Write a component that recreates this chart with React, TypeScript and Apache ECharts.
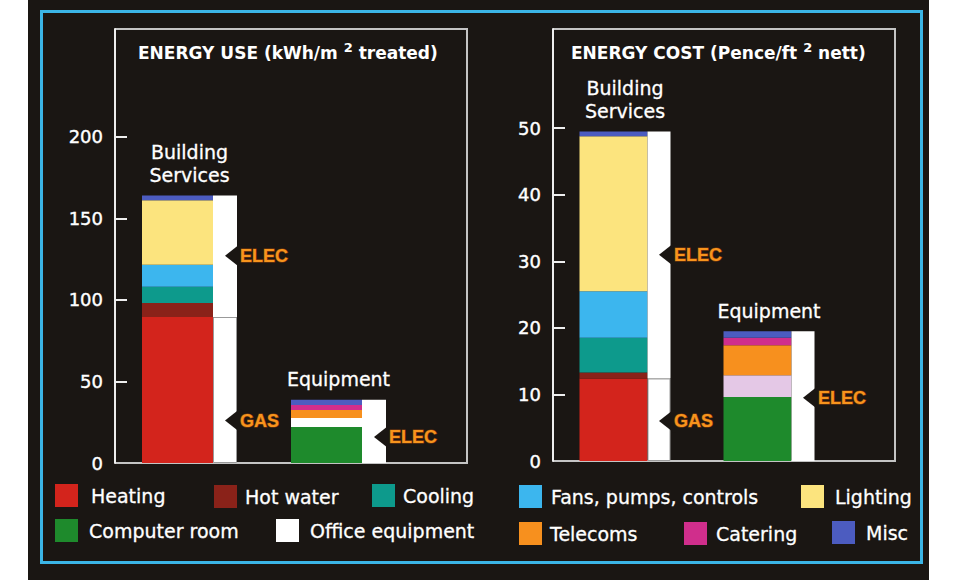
import React, { useEffect, useRef } from 'react';
import * as echarts from 'echarts';

const categories = ['Building Services', 'Equipment'];
const categoryLabels = ['Building\nServices', 'Equipment'];

const endUses = ['Heating', 'Hot water', 'Cooling', 'Fans, pumps, controls', 'Lighting', 'Computer room', 'Office equipment', 'Telecoms', 'Catering', 'Misc'];

// ENERGY USE (kWh/m2 treated): segment sizes for [Building Services, Equipment]
const useHeating = [89.5, 0];
const useHotWater = [8.5, 0];
const useCooling = [10, 0];
const useFans = [13.5, 0];
const useLighting = [39.5, 0];
const useComputerRoom = [0, 22];
const useOfficeEquipment = [0, 5.6];
const useTelecoms = [0, 4.9];
const useCatering = [0, 3.1];
const useMisc = [3, 3.1];
const useGas = [89.5, 0];
const useElec = [74.5, 38.7];
const useTicks = [0, 50, 100, 150, 200];
const useCallouts = [
  { cat: 0, value: 127, text: 'ELEC' },
  { cat: 0, value: 26, text: 'GAS' },
  { cat: 1, value: 16, text: 'ELEC' },
];

// ENERGY COST (Pence/ft2 nett)
const costHeating = [12.4, 0];
const costHotWater = [0.9, 0];
const costCooling = [5.2, 0];
const costFans = [7.0, 0];
const costLighting = [23.3, 0];
const costComputerRoom = [0, 9.6];
const costOfficeEquipment = [0, 3.3];
const costTelecoms = [0, 4.5];
const costCatering = [0, 1.1];
const costMisc = [0.7, 1.0];
const costGas = [12.4, 0];
const costElec = [37.1, 19.5];
const costTicks = [0, 10, 20, 30, 40, 50];
const costCallouts = [
  { cat: 0, value: 31, text: 'ELEC' },
  { cat: 0, value: 6, text: 'GAS' },
  { cat: 1, value: 9.5, text: 'ELEC' },
];

const COLORS: Record<string, string> = {
  'Heating': '#d3241c',
  'Hot water': '#8a2219',
  'Cooling': '#0d9a8c',
  'Fans, pumps, controls': '#3cb6ee',
  'Lighting': '#fce47e',
  'Computer room': '#1e8a2c',
  'Office equipment': '#ffffff',
  'Telecoms': '#f7901e',
  'Catering': '#d02e8c',
  'Misc': '#4c5cc0',
};
const BG = '#1a1613';
const FONT = '"DejaVu Sans", sans-serif';

function buildSeries(g: number, values: number[][], gas: number[], elec: number[], w1: number, w2: number, callouts: any[], officeOverride?: string) {
  const s: any[] = [];
  endUses.forEach((name, i) => {
    const isMisc = name === 'Misc';
    s.push({
      type: 'bar',
      name,
      stack: 'use' + g,
      xAxisIndex: g,
      yAxisIndex: g,
      barWidth: w1,
      barGap: '0%',
      itemStyle: { color: COLORS[name] },
      data: values[i].map((v, j) => {
        const item: any = { value: v };
        if (officeOverride && name === 'Office equipment' && v > 0) item.itemStyle = { color: officeOverride };
        if (isMisc) {
          item.label = {
            show: true,
            position: 'top',
            distance: 9,
            offset: [w2 / 2, 0],
            formatter: categoryLabels[j],
            color: '#ffffff',
            fontSize: 19,
            lineHeight: 23,
            fontFamily: FONT,
            textBorderColor: '#ffffff',
            textBorderWidth: 0.3,
          };
        }
        return item;
      }),
    });
  });
  const fuelBorder = (v: number) => (v > 0 ? { color: '#ffffff', borderColor: '#9a9a9a', borderWidth: 1 } : { color: '#ffffff' });
  s.push({
    type: 'bar', name: 'Gas', stack: 'fuel' + g, xAxisIndex: g, yAxisIndex: g, barWidth: w2, barGap: '0%',
    itemStyle: { color: '#ffffff' },
    data: gas.map((v) => ({ value: v, itemStyle: fuelBorder(v) })),
  });
  s.push({
    type: 'bar', name: 'Elec', stack: 'fuel' + g, xAxisIndex: g, yAxisIndex: g, barWidth: w2, barGap: '0%',
    itemStyle: { color: '#ffffff' },
    data: elec,
  });
  s.push({
    type: 'custom',
    xAxisIndex: g,
    yAxisIndex: g,
    z: 10,
    silent: true,
    clip: false,
    data: callouts.map((c) => [c.cat, c.value]),
    renderItem: (params: any, api: any) => {
      const p = api.coord([api.value(0), api.value(1)]);
      const tipX = p[0] + w1 / 2;
      const y = p[1];
      const text = callouts[params.dataIndex].text;
      return {
        type: 'group',
        children: [
          { type: 'polygon', shape: { points: [[tipX, y], [tipX + 14, y - 11], [tipX + 14, y + 11]] }, style: { fill: BG } },
          { type: 'rect', shape: { x: tipX + 13, y: y - 11, width: 4, height: 22 }, style: { fill: BG } },
          {
            type: 'text',
            x: tipX + 15,
            y: y,
            style: {
              text,
              fill: '#f7941d',
              stroke: '#7a3a0c',
              lineWidth: 1.2,
              font: 'bold 18px "Liberation Sans", Arial, sans-serif',
              verticalAlign: 'middle',
              textVerticalAlign: 'middle',
              align: 'left',
            },
          },
        ],
      };
    },
  });
  return s;
}

function legendItem(name: string, left: number, top: number, pad: number) {
  return {
    data: [name],
    left,
    top,
    padding: 0,
    itemWidth: 23,
    itemHeight: 23,
    icon: 'rect',
    selectedMode: false,
    textStyle: { color: '#ffffff', fontSize: 19, fontFamily: FONT, padding: [0, 0, 0, pad], textBorderColor: '#ffffff', textBorderWidth: 0.3 },
  };
}

export default function App() {
  const ref = useRef<HTMLDivElement>(null);
  useEffect(() => {
    if (!ref.current) return;
    const chart = echarts.init(ref.current, undefined, { renderer: 'svg' });
    const useValues = [useHeating, useHotWater, useCooling, useFans, useLighting, useComputerRoom, useOfficeEquipment, useTelecoms, useCatering, useMisc];
    const costValues = [costHeating, costHotWater, costCooling, costFans, costLighting, costComputerRoom, costOfficeEquipment, costTelecoms, costCatering, costMisc];

    const yAxisBase = (max: number, ticks: number[]) => ({
      type: 'value',
      min: 0,
      max,
      axisLine: { show: true, lineStyle: { color: '#eeeeee', width: 2 } },
      axisTick: { show: true, inside: true, length: 12, customValues: ticks.slice(1), lineStyle: { color: '#eeeeee', width: 2 } },
      axisLabel: { customValues: ticks, color: '#ffffff', fontSize: 18, fontFamily: FONT, margin: 12, textBorderColor: '#ffffff', textBorderWidth: 0.4 },
      splitLine: { show: false },
    });
    const xAxisBase = (g: number) => ({
      type: 'category',
      gridIndex: g,
      data: categories,
      axisLine: { show: false },
      axisTick: { show: false },
      axisLabel: { show: false },
    });
    const titleStyle = {
      color: '#ffffff', fontSize: 17, fontWeight: 'bold', fontFamily: FONT,
      rich: { sup: { fontSize: 13, fontWeight: 'bold', color: '#ffffff', fontFamily: FONT, padding: [0, 0, 10, 0] } },
    };

    const option: any = {
      animation: false,
      backgroundColor: '#ffffff',
      title: [
        { text: 'ENERGY USE (kWh/m {sup|2} treated)', left: 138, top: 41, padding: 0, textStyle: titleStyle },
        { text: 'ENERGY COST (Pence/ft {sup|2} nett)', left: 571, top: 41, padding: 0, textStyle: titleStyle },
      ],
      graphic: [
        { type: 'rect', z: -10, silent: true, shape: { x: 28, y: 0, width: 901, height: 580 }, style: { fill: BG } },
        { type: 'rect', z: -9, silent: true, shape: { x: 41.5, y: 11.5, width: 880, height: 551 }, style: { fill: 'none', stroke: '#3bb5e6', lineWidth: 3 } },
        { type: 'polyline', z: -8, silent: true, shape: { points: [[115, 29], [467, 29], [467, 463], [115, 463]] }, style: { fill: 'none', stroke: '#c4c4c4', lineWidth: 2 } },
        { type: 'polyline', z: -8, silent: true, shape: { points: [[553, 29], [895, 29], [895, 461], [553, 461]] }, style: { fill: 'none', stroke: '#c4c4c4', lineWidth: 2 } },
      ],
      legend: [
        legendItem('Heating', 55, 484, 8),
        legendItem('Hot water', 214, 485, 3),
        legendItem('Cooling', 372, 484, 3),
        legendItem('Fans, pumps, controls', 519, 485, 4),
        legendItem('Lighting', 801, 485, 6),
        legendItem('Computer room', 55, 519, 6),
        legendItem('Office equipment', 276, 519, 6),
        legendItem('Telecoms', 519, 522, 3),
        legendItem('Catering', 684, 522, 4),
        legendItem('Misc', 832, 521, 6),
      ],
      grid: [
        { left: 115, top: 29, width: 298, height: 434, containLabel: false },
        { left: 553, top: 29, width: 288, height: 432, containLabel: false },
      ],
      xAxis: [xAxisBase(0), xAxisBase(1)],
      yAxis: [
        { ...yAxisBase(266, useTicks), gridIndex: 0 },
        { ...yAxisBase(64.9, costTicks), gridIndex: 1 },
      ],
      series: [
        ...buildSeries(0, useValues, useGas, useElec, 71, 24, useCallouts),
        ...buildSeries(1, costValues, costGas, costElec, 68, 23, costCallouts, '#e4c8e6'),
      ],
    };
    chart.setOption(option);
    return () => chart.dispose();
  }, []);
  return <div ref={ref} style={{ position: 'absolute', left: 0, top: 0, width: 956, height: 580 }} />;
}
